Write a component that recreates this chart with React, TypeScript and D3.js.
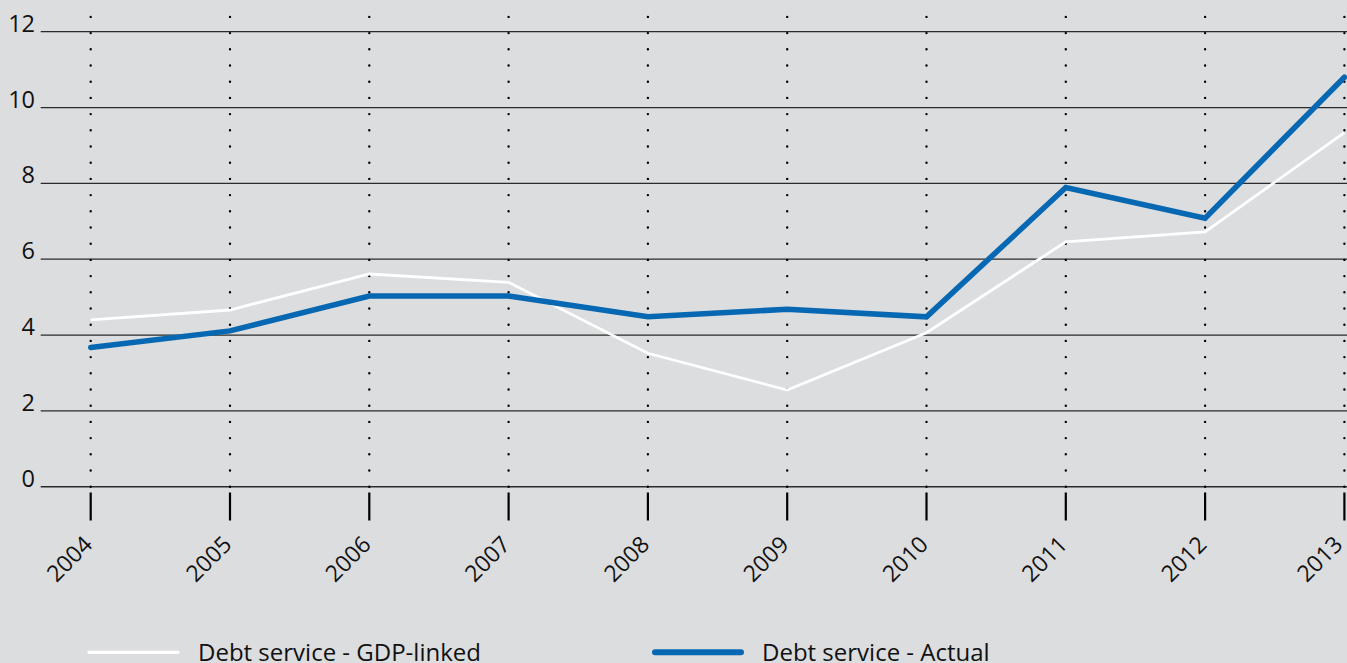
import React from "react";
import * as d3 from "d3";

const years = ["2004", "2005", "2006", "2007", "2008", "2009", "2010", "2011", "2012", "2013"];
const gdpLinked = [4.4, 4.66, 5.61, 5.39, 3.52, 2.55, 4.06, 6.46, 6.72, 9.34];
const actual = [3.67, 4.11, 5.03, 5.03, 4.48, 4.68, 4.48, 7.89, 7.08, 10.8];
const yTicks = [0, 2, 4, 6, 8, 10, 12];
const seriesNames = ["Debt service - GDP-linked", "Debt service - Actual"];

const W = 1347;
const H = 663;
const BG = "#dcdddf";
const BLUE = "#0668b2";
const FONT = "'Open Sans', 'DejaVu Sans', sans-serif";

export default function App() {
  const x = d3.scalePoint<string>().domain(years).range([90.7, 1344.4]);
  const y = d3.scaleLinear().domain([0, 12]).range([486.7, 31.7]);

  const line = d3
    .line<number>()
    .x((_, i) => x(years[i]) as number)
    .y((d) => y(d));

  return (
    <div style={{ position: "fixed", left: 0, top: 0, width: W, height: H, background: BG }}>
      <svg width={W} height={H} style={{ display: "block" }}>
        <rect x={0} y={0} width={W} height={H} fill={BG} />
        {/* horizontal gridlines */}
        {yTicks.map((t) => (
          <line
            key={"g" + t}
            x1={40.7}
            x2={W}
            y1={y(t)}
            y2={y(t)}
            stroke="#2a2a2a"
            strokeWidth={t === 0 ? 1.6 : 1.2}
          />
        ))}
        {/* y labels */}
        {yTicks.map((t) => (
          <text
            key={"l" + t}
            x={35}
            y={y(t)}
            textAnchor="end"
            fontFamily={FONT}
            fontSize={23.5}
            fill="#111"
          >
            {t}
          </text>
        ))}
        {/* dotted verticals */}
        {years.map((yr) => (
          <line
            key={"v" + yr}
            x1={x(yr)}
            x2={x(yr)}
            y1={y(0)}
            y2={12}
            stroke="#000"
            strokeWidth={2.4}
            strokeLinecap="round"
            strokeDasharray="0 16.2"
          />
        ))}
        {/* ticks */}
        {years.map((yr) => (
          <line
            key={"t" + yr}
            x1={x(yr)}
            x2={x(yr)}
            y1={492.5}
            y2={520.5}
            stroke="#000"
            strokeWidth={2.2}
          />
        ))}
        {/* year labels */}
        {years.map((yr) => (
          <text
            key={"y" + yr}
            transform={`translate(${Math.min((x(yr) as number) + 3, W - 3)},546) rotate(-45)`}
            textAnchor="end"
            fontFamily={FONT}
            fontSize={23}
            fill="#111"
          >
            {yr}
          </text>
        ))}
        {/* series */}
        <path
          d={line(gdpLinked) || ""}
          fill="none"
          stroke="#ffffff"
          strokeWidth={2.8}
          strokeLinejoin="miter"
        />
        <path
          d={line(actual) || ""}
          fill="none"
          stroke={BLUE}
          strokeWidth={5.5}
          strokeLinejoin="miter"
          strokeLinecap="round"
        />
        {/* legend */}
        <line x1={89} x2={178} y1={652.3} y2={652.3} stroke="#fff" strokeWidth={3.2} strokeLinecap="round" />
        <text x={198} y={661} fontFamily={FONT} fontSize={24} fill="#111">
          {seriesNames[0]}
        </text>
        <line x1={655} x2={741} y1={652.3} y2={652.3} stroke={BLUE} strokeWidth={6} strokeLinecap="round" />
        <text x={762} y={661} fontFamily={FONT} fontSize={24} fill="#111">
          {seriesNames[1]}
        </text>
      </svg>
    </div>
  );
}
